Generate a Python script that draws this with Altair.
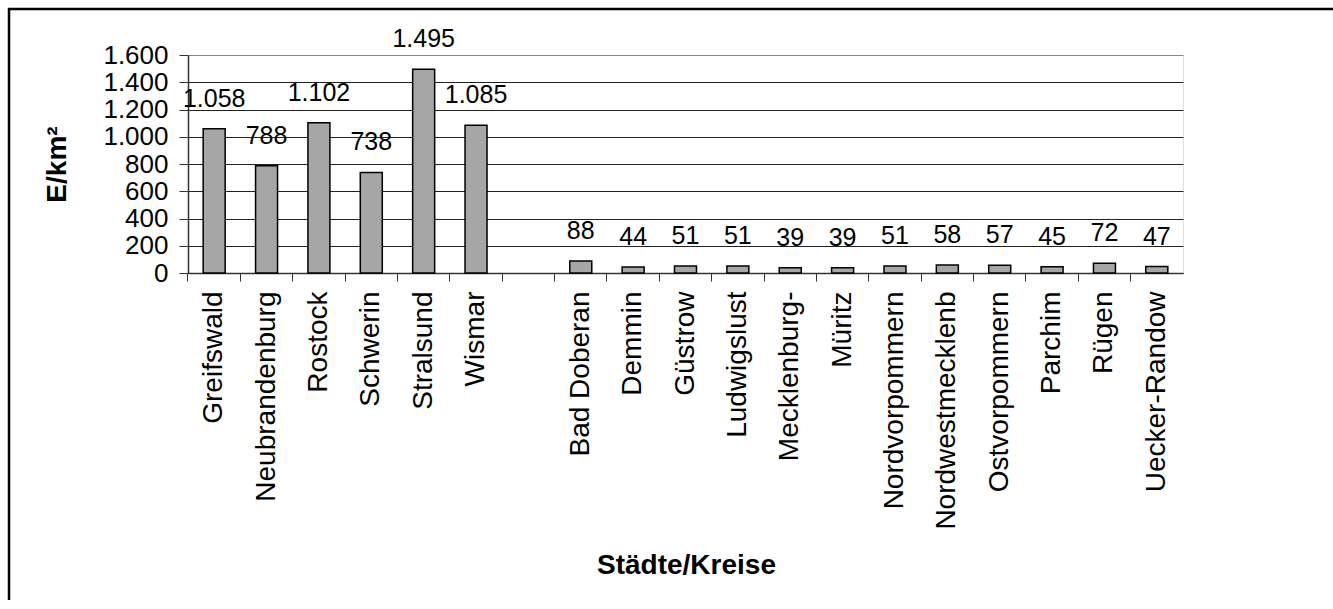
import altair as alt
import pandas as pd

categories = ["Greifswald", "Neubrandenburg", "Rostock", "Schwerin", "Stralsund", "Wismar",
              "Bad Doberan", "Demmin", "Güstrow", "Ludwigslust", "Mecklenburg-", "Müritz",
              "Nordvorpommern", "Nordwestmecklenb", "Ostvorpommern", "Parchim", "Rügen",
              "Uecker-Randow"]
values = [1058, 788, 1102, 738, 1495, 1085,
          88, 44, 51, 51, 39, 39, 51, 58, 57, 45, 72, 47]
x_domain = categories[:6] + [" "] + categories[6:]
y_ticks = [0, 200, 400, 600, 800, 1000, 1200, 1400, 1600]

df = pd.DataFrame({"Kreis": categories, "Dichte": values})

FONT = "Liberation Sans"
fmt_de = "replace(format(datum.value, ','), ',', '.')"

x_enc = alt.X(
    "Kreis:N",
    scale=alt.Scale(domain=x_domain, paddingInner=0, paddingOuter=0),
    axis=alt.Axis(
        title="Städte/Kreise", titleFontSize=28, titleFont=FONT, titleFontWeight="bold",
        titleColor="black", titleX=498, titleY=300, titleAlign="center",
        titleBaseline="alphabetic",
        labelAngle=-90, labelFontSize=28, labelFont=FONT, labelColor="black",
        labelPadding=10, labelLimit=500, labelOverlap=False,
        bandPosition=0, tickSize=8, tickColor="#333", tickWidth=1,
        domainColor="#333", domainWidth=1.5, grid=False,
    ),
)

y_enc = alt.Y(
    "Dichte:Q",
    scale=alt.Scale(domain=[0, 1600], nice=False),
    axis=alt.Axis(
        values=y_ticks, labelExpr=fmt_de, labelFontSize=26, labelFont=FONT,
        labelColor="black", labelPadding=11, labelOverlap=False, labelFlush=False,
        tickSize=9, tickColor="#333", tickWidth=1,
        domainColor="#333", domainWidth=1.5,
        grid=True, gridWidth=1,
        gridColor={"condition": {"test": "datum.value == 1600", "value": "#888888"},
                   "value": "#222222"},
        title="E/km²", titleFontSize=28, titleFont=FONT, titleFontWeight="bold",
        titleColor="black", titleAngle=-90, titleX=-131, titleY=109,
        titleAlign="center", titleBaseline="middle",
    ),
)

base = alt.Chart(df).encode(x=x_enc, y=y_enc)

bars = base.mark_bar(
    width=alt.RelativeBandSize(0.42), color="#a6a6a6", stroke="black", strokeWidth=1.5
)

labels = base.transform_calculate(
    lab="replace(format(datum.Dichte, ','), ',', '.')"
).mark_text(
    dy=-22, fontSize=25, font=FONT, color="black", baseline="alphabetic"
).encode(text="lab:N")

frame_df = pd.DataFrame({"k": [0]})
frame_left = alt.Chart(frame_df).mark_rule(color="black", strokeWidth=2.5).encode(
    x=alt.value(-179), y=alt.value(-47), y2=alt.value(600)
)
frame_top = alt.Chart(frame_df).mark_rule(color="black", strokeWidth=2.5).encode(
    x=alt.value(-180), x2=alt.value(1200), y=alt.value(-46)
)

chart = alt.layer(bars, labels, frame_left, frame_top).properties(
    width=995, height=218,
    autosize=alt.AutoSizeParams(type="none"),
    padding={"left": 188, "top": 55, "right": 150, "bottom": 327},
).configure_view(
    stroke="#888888", strokeWidth=1.5
).configure(background="white")

chart.save("out.html", embed_options={"renderer": "svg", "actions": False})
